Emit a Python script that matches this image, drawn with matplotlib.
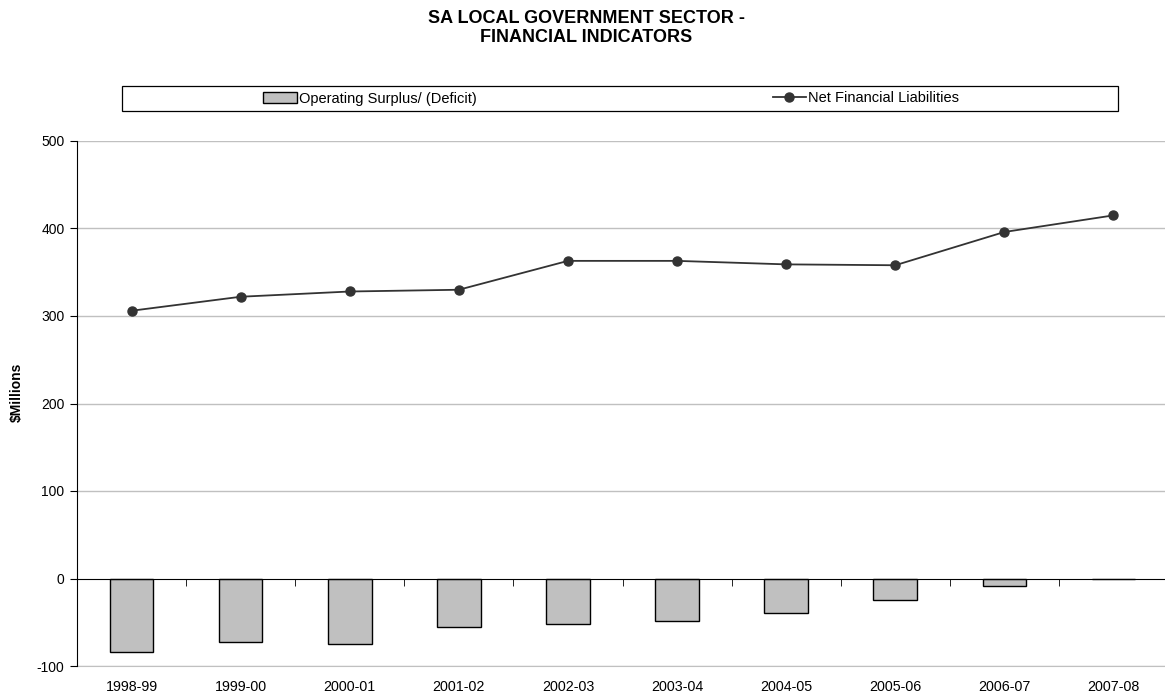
import matplotlib
matplotlib.use("Agg")
import matplotlib.pyplot as plt
from matplotlib.patches import Rectangle
import numpy as np

plt.rcParams['font.family'] = ['Liberation Sans', 'DejaVu Sans']
plt.rcParams['axes.unicode_minus'] = False

years = ["1998-99", "1999-00", "2000-01", "2001-02", "2002-03",
         "2003-04", "2004-05", "2005-06", "2006-07", "2007-08"]
operating_surplus = [-84, -73, -75, -55, -52, -49, -39, -24, -8, 0]
net_fin_liabilities = [306, 322, 328, 330, 363, 363, 359, 358, 396, 415]

W, H = 1165, 696
fig = plt.figure(figsize=(W/100, H/100), dpi=100)
ax_left, ax_right = 77, 1168
ax = fig.add_axes([ax_left/W, 1-666/H, (ax_right-ax_left)/W, 525/H])

x = np.arange(len(years))
bars = ax.bar(x, operating_surplus, width=0.4, color="#c0c0c0", edgecolor="black",
              linewidth=1.0, zorder=3, label="Operating Surplus/ (Deficit)")
line, = ax.plot(x, net_fin_liabilities, color="#333333", linewidth=1.3, marker="o",
                markersize=6.5, markerfacecolor="#333333", markeredgecolor="#333333",
                zorder=4, label="Net Financial Liabilities")

ax.set_xlim(-0.5, len(years) - 0.5)
ax.set_ylim(-100, 500)
ax.set_yticks(np.arange(-100, 501, 100))
for yv in np.arange(-100, 501, 100):
    if yv != 0:
        ax.axhline(yv, color="#c0c0c0", linewidth=1.0, zorder=1)

ax.spines['top'].set_visible(False)
ax.spines['right'].set_visible(False)
ax.spines['left'].set_color("black")
ax.spines['bottom'].set_position(('data', 0))
ax.spines['bottom'].set_color("black")
ax.spines['bottom'].set_zorder(5)
ax.set_xticks(x)
ax.set_xticklabels([])
ax.tick_params(axis='x', which='major', length=0)
ax.set_xticks(np.arange(-0.5, len(years)), minor=True)
ax.tick_params(axis='x', which='minor', length=5, direction='out', color="black")
ax.tick_params(axis='y', length=5, direction='out', color="black", labelsize=10, pad=4)

sec = ax.secondary_xaxis(0)
sec.set_xticks(x)
sec.set_xticklabels(years, fontsize=10.3)
sec.tick_params(length=0, pad=10)
sec.spines['bottom'].set_color("#c0c0c0")

fig.text(17/W, 1-392/H, "$Millions", rotation=90, ha="center", va="center",
         fontsize=10, fontweight="bold")

fig.text(586/W, 1-28/H, "SA LOCAL GOVERNMENT SECTOR -\nFINANCIAL INDICATORS",
         ha="center", va="center", fontsize=13, fontweight="bold", linespacing=1.12)

# legend box
fig.patches.append(Rectangle((122/W, 1-111/H), 996/W, 25/H,
                             transform=fig.transFigure, fill=False,
                             edgecolor="black", linewidth=0.9))
fig.legend(handles=[bars, line], loc="center left", bbox_to_anchor=(263/W, 1-98.5/H),
           ncol=2, frameon=False, fontsize=10.5, handlelength=2.3, handletextpad=0.15,
           columnspacing=20.3, borderpad=0, borderaxespad=0)

fig.savefig("out.png", dpi=100)
